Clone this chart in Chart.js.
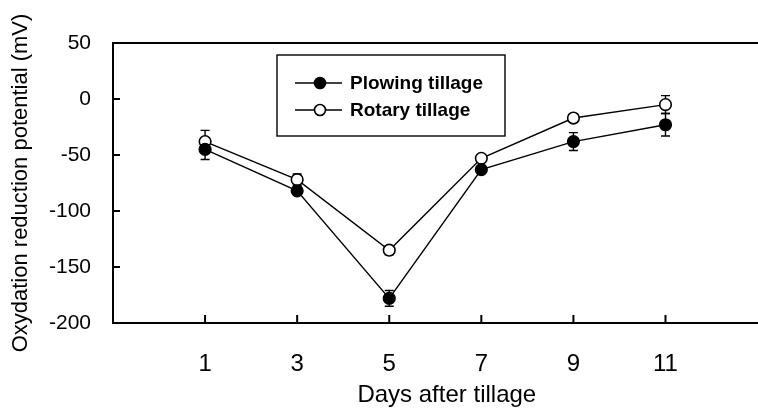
<!DOCTYPE html>
<html>
<head>
<meta charset="utf-8">
<script src="https://cdn.jsdelivr.net/npm/chart.js@4"></script>
<style>
  body { margin: 0; overflow: hidden; background: #fff; }
  #wrap { width: 788px; height: 410px; }
</style>
</head>
<body>
<div id="wrap"><canvas id="orpChart" width="788" height="410"></canvas></div>
<script>
const days = [1, 3, 5, 7, 9, 11];
const plowing = [-45, -82, -178, -63, -38, -23];
const plowingErr = [9, 3, 7, 3, 8, 10];
const rotary = [-38, -72, -135, -53, -17, -5];
const rotaryErr = [10, 5, 4, 2, 2, 8];
const yTicks = [-200, -150, -100, -50, 0, 50];

const errors = [plowingErr, rotaryErr];

function toPoints(vals) {
  return days.map((d, i) => ({ x: d, y: vals[i] }));
}

const frame = {
  id: 'frame',
  beforeDatasetsDraw(chart) {
    const ctx = chart.ctx;
    const xs = chart.scales.x;
    const ys = chart.scales.y;
    ctx.save();
    ctx.strokeStyle = '#000';
    ctx.lineWidth = 1.4;
    chart.data.datasets.forEach((ds, di) => {
      ds.data.forEach((p, i) => {
        const e = errors[di][i];
        const px = xs.getPixelForValue(p.x);
        const top = ys.getPixelForValue(p.y + e);
        const bot = ys.getPixelForValue(p.y - e);
        ctx.beginPath();
        ctx.moveTo(px, top); ctx.lineTo(px, bot);
        ctx.moveTo(px - 4.5, top); ctx.lineTo(px + 4.5, top);
        ctx.moveTo(px - 4.5, bot); ctx.lineTo(px + 4.5, bot);
        ctx.stroke();
      });
    });
    ctx.restore();
  },
  afterDraw(chart) {
    const ctx = chart.ctx;
    const area = chart.chartArea;
    const xs = chart.scales.x;
    const ys = chart.scales.y;
    ctx.save();
    ctx.strokeStyle = '#000';
    // top frame line
    ctx.lineWidth = 2;
    ctx.beginPath();
    ctx.moveTo(area.left - 1, area.top);
    ctx.lineTo(area.right, area.top);
    ctx.stroke();
    // inward ticks
    ctx.lineWidth = 2;
    ctx.beginPath();
    yTicks.forEach(v => {
      const py = ys.getPixelForValue(v);
      ctx.moveTo(area.left, py); ctx.lineTo(area.left + 7, py);
    });
    days.forEach(v => {
      const px = xs.getPixelForValue(v);
      ctx.moveTo(px, area.bottom); ctx.lineTo(px, area.bottom - 8);
    });
    ctx.stroke();

    // legend box
    ctx.lineWidth = 1.4;
    ctx.strokeRect(277, 55, 228, 81);
    const rows = [83, 110];
    ctx.font = 'bold 19px "Liberation Sans", Arial, sans-serif';
    ctx.textBaseline = 'middle';
    chart.data.datasets.forEach((ds, i) => {
      const y = rows[i];
      ctx.beginPath();
      ctx.moveTo(295, y); ctx.lineTo(342, y);
      ctx.lineWidth = 1.4;
      ctx.stroke();
      ctx.beginPath();
      ctx.arc(320, y, 5.5, 0, Math.PI * 2);
      ctx.fillStyle = ds.pointBackgroundColor;
      ctx.fill();
      ctx.lineWidth = 1.6;
      ctx.stroke();
      ctx.fillStyle = '#000';
      ctx.fillText(ds.label, 350, y + 1);
    });
    ctx.restore();
  }
};

new Chart(document.getElementById('orpChart'), {
  type: 'line',
  data: {
    datasets: [
      {
        label: 'Plowing tillage',
        data: toPoints(plowing),
        borderColor: '#000',
        borderWidth: 1.4,
        pointRadius: 5.8,
        pointBackgroundColor: '#000',
        pointBorderColor: '#000',
        pointBorderWidth: 1.6,
        fill: false,
      },
      {
        label: 'Rotary tillage',
        data: toPoints(rotary),
        borderColor: '#000',
        borderWidth: 1.4,
        pointRadius: 5.8,
        pointBackgroundColor: '#fff',
        pointBorderColor: '#000',
        pointBorderWidth: 1.6,
        fill: false,
      },
    ],
  },
  options: {
    responsive: false,
    animation: false,
    layout: { padding: { top: 43, left: 0, right: 0, bottom: 0 } },
    plugins: {
      legend: { display: false },
      tooltip: { enabled: false },
    },
    scales: {
      x: {
        type: 'linear',
        min: -1,
        max: 13.5,
        afterBuildTicks: s => { s.ticks = days.map(v => ({ value: v })); },
        afterFit: s => { s.height = 87; },
        grid: { display: false },
        border: { display: true, color: '#000', width: 2 },
        ticks: {
          color: '#000',
          padding: 19,
          font: { family: '"Liberation Sans", Arial, sans-serif', size: 24 },
        },
        title: {
          display: true,
          text: 'Days after tillage',
          color: '#000',
          padding: { top: 0, bottom: 0 },
          font: { family: '"Liberation Sans", Arial, sans-serif', size: 24 },
        },
      },
      y: {
        min: -200,
        max: 50,
        afterBuildTicks: s => { s.ticks = yTicks.map(v => ({ value: v })); },
        afterFit: s => { s.width = 113; },
        grid: { display: false },
        border: { display: true, color: '#000', width: 2 },
        ticks: {
          color: '#000',
          padding: 14,
          font: { family: '"Liberation Sans", Arial, sans-serif', size: 21 },
        },
        title: {
          display: true,
          text: 'Oxydation reduction potential (mV)',
          color: '#000',
          padding: { top: 8, bottom: 0 },
          font: { family: '"Liberation Sans", Arial, sans-serif', size: 22 },
        },
      },
    },
  },
  plugins: [frame],
});
</script>
</body>
</html>
